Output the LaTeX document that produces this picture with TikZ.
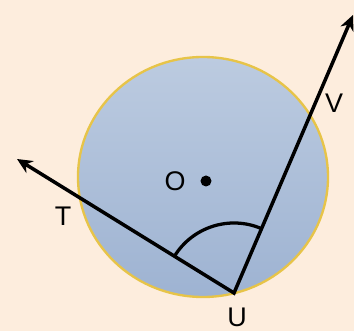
\documentclass[tikz,border=0pt]{standalone}
\usepackage{fontspec}
\setmainfont{Liberation Sans}
\usepackage{xcolor}
\usetikzlibrary{
    arrows.meta,
    angles,
    shapes.geometric
}
\definecolor{bgcream}{RGB}{253,237,221}
\definecolor{disctop}{RGB}{188,203,224}
\definecolor{discbottom}{RGB}{158,179,210}
\definecolor{discrim}{RGB}{231,196,72}

\begin{document}
\begin{tikzpicture}[
    x=0.03cm, y=0.03cm,
    disc/.style={
        ellipse,
        draw=discrim,
        line width=2pt,
        top color=disctop,
        bottom color=discbottom,
        minimum width=7.5cm,
        minimum height=7.2cm,
        inner sep=0pt
    },
    ptlabel/.style={font=\fontsize{23}{26}\selectfont, inner sep=0pt},
    dotmark/.style={circle, fill=black, minimum size=0.33cm, inner sep=0pt},
    ray/.style={{Stealth[length=4.6mm, width=4.2mm]}-{Stealth[length=4.6mm, width=4.2mm]}, line width=3pt},
    anglemark/.style={draw, line width=2.8pt, angle radius=2.1cm}
]

% Background
\fill[bgcream] (0,0) rectangle (354,331);
\useasboundingbox (0,0) rectangle (354,331);

% Circle
\node[disc] (disc) at (203,154) {};

% Points
\coordinate (U) at (234,38);
\coordinate (Ttip) at (17,172);
\coordinate (Vtip) at (353,316);
\node[dotmark] (O) at (206,150) {};

% Rays
\draw[ray] (Ttip) -- (U) -- (Vtip);

% Angle
\pic[anglemark] {angle=Vtip--U--Ttip};

% Labels
\node[ptlabel] (Olabel) at (175,150) {O};
\node[ptlabel] (Tlabel) at (63,115) {T};
\node[ptlabel] (Vlabel) at (334,228) {V};
\node[ptlabel] (Ulabel) at (237,14) {U};

\end{tikzpicture}
\end{document}
